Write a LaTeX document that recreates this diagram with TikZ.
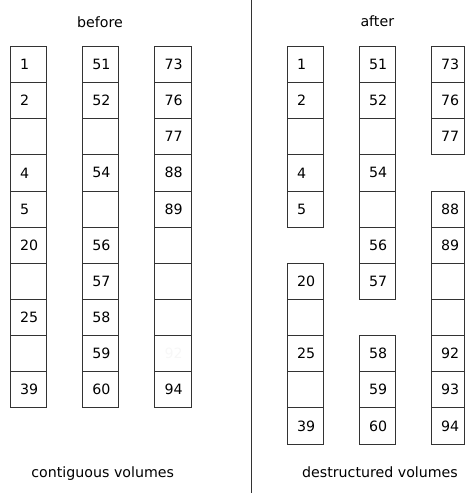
\documentclass[tikz,border=0pt]{standalone}
\usepackage{fontspec}
\setmainfont{DejaVu Sans}
\begin{document}
\begin{tikzpicture}[x=1pt,y=-1pt,
  cell/.style={draw=black!80, line width=0.8pt, rectangle,
    minimum width=36.3pt, minimum height=36.15pt,
    inner xsep=9.8pt, inner ysep=0pt, text width=16.7pt, align=left,
    font=\fontsize{14.2}{17}\selectfont},
  narrowcell/.style={cell, minimum width=33.3pt, text width=13.7pt},
  title/.style={anchor=base, font=\fontsize{14.2}{17}\selectfont},
  divider/.style={draw=black!80, line width=0.9pt}]
\useasboundingbox (0,0) rectangle (467,493);
\def\rowy#1{46.3+36.15*#1+18.075}
% ---------- before ----------
\node[title] (tbefore) at (100,27.7) {before};
\foreach \r/\t in {0/1,1/2,2/{},3/4,4/5,5/20,6/{},7/25,8/{},9/39}
  \node[cell] (b1-\r) at (28.35,{\rowy{\r}}) {\t};
\foreach \r/\t in {0/51,1/52,2/{},3/54,4/{},5/56,6/57,7/58,8/59,9/60}
  \node[cell] (b2-\r) at (100.7,{\rowy{\r}}) {\t};
\foreach \r/\t in {0/73,1/76,2/77,3/88,4/89,5/{},6/{},7/{},8/{\textcolor{black!3}{92}},9/94}
  \node[cell] (b3-\r) at (172.85,{\rowy{\r}}) {\t};
\node[title] (tcont) at (102.7,477) {contiguous volumes};
% ---------- divider ----------
\coordinate (dtop) at (251.7,0);
\coordinate (dbot) at (251.7,493);
\draw[divider] (dtop) -- (dbot);
% ---------- after ----------
\node[title] (tafter) at (377.3,26.7) {after};
\foreach \r/\t in {0/1,1/2,2/{},3/4,4/5,6/20,7/{},8/25,9/{},10/39}
  \node[cell] (a1-\r) at (305.5,{\rowy{\r}}) {\t};
\foreach \r/\t in {0/51,1/52,2/{},3/54,4/{},5/56,6/57,8/58,9/59,10/60}
  \node[cell] (a2-\r) at (377.5,{\rowy{\r}}) {\t};
\foreach \r/\t in {0/73,1/76,2/77,4/88,5/89,6/{},7/{},8/92,9/93,10/94}
  \node[narrowcell] (a3-\r) at (448.0,{\rowy{\r}}) {\t};
\node[title] (tdest) at (380,477) {destructured volumes};
\end{tikzpicture}
\end{document}
